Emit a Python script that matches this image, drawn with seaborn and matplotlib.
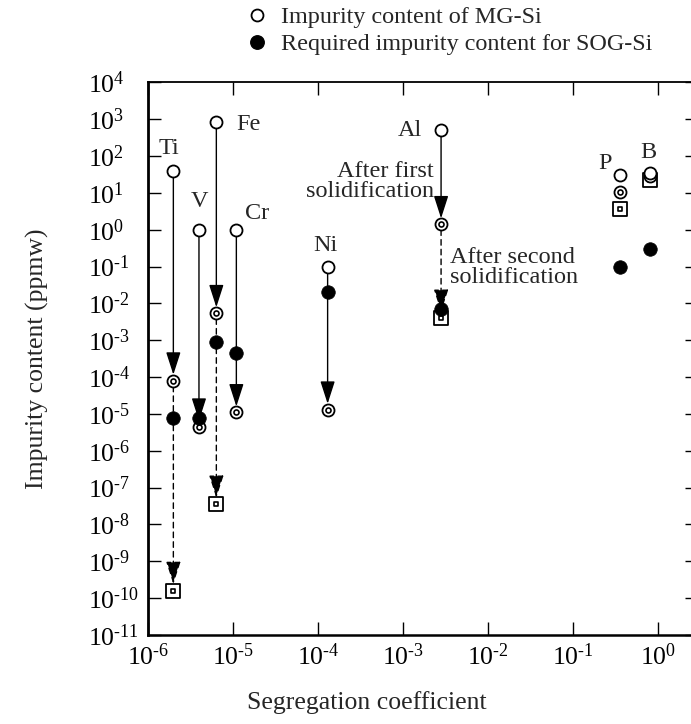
import numpy as np
import pandas as pd
import matplotlib
matplotlib.use("Agg")
import matplotlib.pyplot as plt
from matplotlib.lines import Line2D
import seaborn as sns

# impurities, segregation coefficient and contents (ppmw)
elements = ["Ti", "V", "Fe", "Cr", "Ni", "Al", "P", "B"]
seg_coef = [2e-6, 4e-6, 6.4e-6, 1.1e-5, 1.3e-4, 2.8e-3, 0.35, 0.8]
mg_si = [40, 1.0, 850, 1.0, 0.1, 500, 30, 35]
sog_required = [8e-6, 8e-6, 9e-4, 4.5e-4, 0.02, 7e-3, 0.1, 0.3]
after_first = [8e-5, 4.5e-6, 5.4e-3, 1.1e-5, 1.3e-5, 1.4, 10.5, 28]
after_second = [1.6e-10, np.nan, 3.5e-8, np.nan, np.nan, 3.9e-3, 3.7, 22]
first_arrow = [True, True, True, True, True, True, False, False]
second_arrow = [True, False, True, False, False, True, False, False]

x_exp = [-6, -5, -4, -3, -2, -1, 0]
y_exp = [-11, -10, -9, -8, -7, -6, -5, -4, -3, -2, -1, 0, 1, 2, 3, 4]

df = pd.DataFrame({
    "element": elements, "k": seg_coef, "mg": mg_si, "sog": sog_required,
    "first": after_first, "second": after_second,
    "arrow1": first_arrow, "arrow2": second_arrow,
})


def pow_label(e):
    # hyphen-style minus like the original figure
    return r"$10^{\text{" + str(e) + "}}$"


sns.set_theme(style="ticks")
plt.rcParams["font.family"] = ["Liberation Serif", "DejaVu Serif"]
plt.rcParams["mathtext.fontset"] = "custom"
plt.rcParams["mathtext.rm"] = "Liberation Serif"
plt.rcParams["mathtext.it"] = "Liberation Serif:italic"
plt.rcParams["axes.unicode_minus"] = False

fig = plt.figure(figsize=(6.91, 7.24), dpi=100)
ax = fig.add_axes([0.2138, 0.1229, 0.7964, 0.7634])
ax.set_xscale("log")
ax.set_yscale("log")

# arrows: first solidification (solid), second (dashed)
head = "-|>,head_length=1.4,head_width=0.45"
for _, r in df.iterrows():
    if r["arrow1"]:
        ax.annotate("", xy=(r["k"], r["first"]), xytext=(r["k"], r["mg"]),
                    arrowprops=dict(arrowstyle=head, mutation_scale=10, color="black",
                                    lw=1.0, shrinkA=4, shrinkB=4.3), zorder=2)
    if r["arrow2"]:
        ax.annotate("", xy=(r["k"], r["second"]), xytext=(r["k"], r["first"]),
                    arrowprops=dict(arrowstyle=head, mutation_scale=10, color="black",
                                    lw=1.0, ls=(0, (4, 3)), shrinkA=4, shrinkB=4.7), zorder=2)

mk = dict(ax=ax, legend=False, zorder=4)
sns.scatterplot(data=df, x="k", y="second", marker="s", s=88, color="white",
                edgecolor="black", linewidth=1.3, **mk)
sns.scatterplot(data=df, x="k", y="second", marker="s", s=12, color="white",
                edgecolor="black", linewidth=1.2, **mk)
sns.scatterplot(data=df, x="k", y="first", marker="o", s=75, color="white",
                edgecolor="black", linewidth=1.3, **mk)
sns.scatterplot(data=df, x="k", y="first", marker="o", s=13, color="white",
                edgecolor="black", linewidth=1.2, **mk)
sns.scatterplot(data=df, x="k", y="mg", marker="o", s=75, color="white",
                edgecolor="black", linewidth=1.3, **mk)
sns.scatterplot(data=df, x="k", y="sog", marker="o", s=95, color="black",
                edgecolor="black", linewidth=0.5, **mk)

# element labels, offsets in pixels from the MG-Si point
offsets = {"Ti": (-4, 22), "V": (1, 28), "Fe": (32, -3), "Cr": (21, 16),
           "Ni": (-2, 21), "Al": (-31, 0), "P": (-14, 12), "B": (-2, 20)}
for _, r in df.iterrows():
    ax.annotate(r["element"], xy=(r["k"], r["mg"]), xytext=offsets[r["element"]],
                textcoords="offset pixels", ha="center", va="center", fontsize=17.5)

al = df[df["element"] == "Al"].iloc[0]
ax.annotate("After first\nsolidification", xy=(al["k"], al["first"]), xytext=(-7, 43),
            textcoords="offset pixels", ha="right", va="center", fontsize=17.5,
            linespacing=0.95)
ax.annotate("After second\nsolidification", xy=(al["k"], al["first"]), xytext=(9, -43),
            textcoords="offset pixels", ha="left", va="center", fontsize=17.5,
            linespacing=0.95)

ax.set_xlim(1e-6, 10 ** 0.467)
ax.set_ylim(1e-11, 1e4)
ax.set_xticks([10.0 ** e for e in x_exp])
ax.set_xticklabels([pow_label(e) for e in x_exp])
ax.set_yticks([10.0 ** e for e in y_exp])
ax.set_yticklabels([pow_label(e) for e in y_exp])
ax.minorticks_off()
ax.tick_params(which="major", direction="in", length=9.4, width=1.0, colors="black",
               top=True, right=True, labelsize=18.5)
ax.tick_params(axis="x", pad=6)
ax.tick_params(axis="y", pad=43)
for lab in ax.get_yticklabels():
    lab.set_horizontalalignment("left")

ax.spines["left"].set_linewidth(2.0)
ax.spines["bottom"].set_linewidth(1.8)
ax.spines["top"].set_linewidth(1.3)
ax.spines["right"].set_linewidth(1.3)
for s in ax.spines.values():
    s.set_color("black")

ax.set_xlabel("Segregation coefficient", fontsize=18.5)
ax.set_ylabel("Impurity content (ppmw)", fontsize=18.5)
ax.xaxis.set_label_coords(0.398, -0.102)
ax.yaxis.set_label_coords(-0.18, 0.5)

handles = [
    Line2D([], [], ls="none", marker="o", ms=8.6, mfc="white", mec="black", mew=1.3),
    Line2D([], [], ls="none", marker="o", ms=9.7, mfc="black", mec="black"),
]
fig.legend(handles, ["Impurity content of MG-Si", "Required impurity content for SOG-Si"],
           loc="upper left", bbox_to_anchor=(0.3544, 0.991), frameon=False,
           fontsize=17.4, handlelength=1.0, handletextpad=0.49, labelspacing=0.2,
           borderpad=0, borderaxespad=0)

fig.savefig("out.png", dpi=100)
